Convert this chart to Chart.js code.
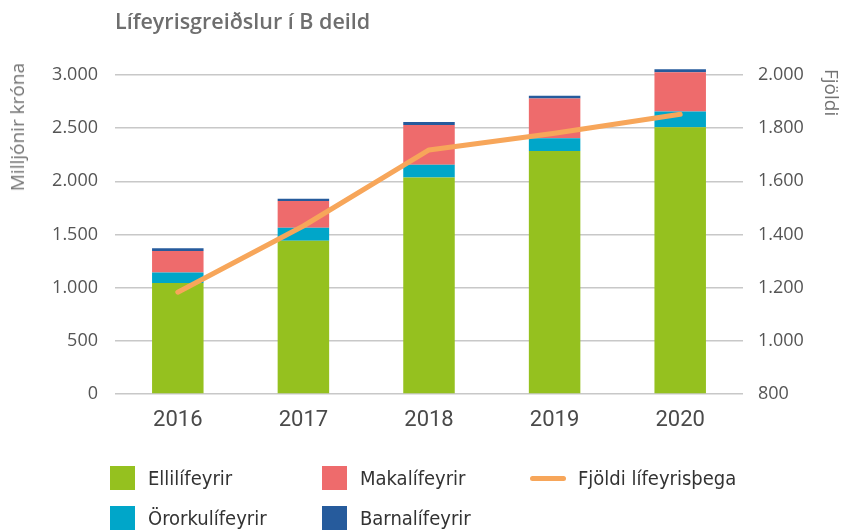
<!DOCTYPE html>
<html>
<head>
<meta charset="utf-8">
<script src="https://cdn.jsdelivr.net/npm/chart.js@4.4.1/dist/chart.umd.min.js"></script>
<style>
  html, body { margin: 0; padding: 0; background: #fff; }
  #wrap { position: relative; width: 849px; height: 530px; overflow: hidden; }
  #chart { position: absolute; left: 0; top: 0; }
  .title { position: absolute; left: 115px; top: 6px; font: 600 21.5px "Open Sans", sans-serif; color: #6e6e6e; }
  .axis-title { position: absolute; font: 400 19px/22px "Open Sans", sans-serif; color: #737373; white-space: nowrap; }
  #yTitle { left: 6px; top: 63px; transform-origin: left top; transform: rotate(-90deg) translateX(-100%); }
  #y1Title { left: 821px; top: 69px; transform-origin: left top; transform: rotate(90deg) translateY(-100%); }
  .legend { position: absolute; left: 0; top: 0; font: 20px "Liberation Sans Narrow", "DejaVu Sans Condensed", sans-serif; color: #333; }
  .legend .item { position: absolute; display: flex; align-items: center; white-space: nowrap; }
  .legend .box { width: 25px; height: 24px; margin-right: 13px; }
  .legend .line { width: 36px; height: 5px; border-radius: 3px; margin-right: 12px; }
</style>
</head>
<body>
<div id="wrap">
  <canvas id="chart" width="849" height="530"></canvas>
  <div class="title">Lífeyrisgreiðslur í B deild</div>
  <div class="axis-title" id="yTitle">Milljónir króna</div>
  <div class="axis-title" id="y1Title">Fjöldi</div>
  <div class="legend" id="legend"></div>
</div>
<script>
const years = ['2016', '2017', '2018', '2019', '2020'];
// milljónir króna
const ellilifeyrir = [1045, 1442, 2035, 2286, 2509];
const ororkulifeyrir = [97, 122, 122, 119, 147];
const makalifeyrir = [204, 251, 373, 373, 370];
const barnalifeyrir = [25, 22, 29, 28, 28];
// fjöldi lífeyrisþega
const fjoldi = [1183, 1432, 1718, 1781, 1852];

const colGreen = '#95c11f';
const colCyan = '#00a6c9';
const colRed = '#ee6b6c';
const colBlue = '#265b9c';
const colOrange = '#f7a65a';

function thousands(v) {
    return String(v).replace(/\B(?=(\d{3})+(?!\d))/g, '.');
}

function barSet(label, data, color) {
    return {
        type: 'bar',
        label: label,
        data: data,
        backgroundColor: color,
        borderWidth: 0,
        stack: 'a',
        yAxisID: 'y',
        barPercentage: 0.41,
        categoryPercentage: 1,
        clip: false,
        order: 2
    };
}

const datasets = [
    barSet('Ellilífeyrir', ellilifeyrir, colGreen),
    barSet('Örorkulífeyrir', ororkulifeyrir, colCyan),
    barSet('Makalífeyrir', makalifeyrir, colRed),
    barSet('Barnalífeyrir', barnalifeyrir, colBlue),
    {
        type: 'line',
        label: 'Fjöldi lífeyrisþega',
        data: fjoldi,
        borderColor: colOrange,
        backgroundColor: colOrange,
        borderWidth: 5,
        borderCapStyle: 'round',
        borderJoinStyle: 'round',
        pointRadius: 0,
        tension: 0,
        yAxisID: 'y1',
        order: 1
    }
];

const ctx = document.getElementById('chart').getContext('2d');
new Chart(ctx, {
    data: { labels: years, datasets: datasets },
    options: {
        responsive: false,
        animation: false,
        layout: { padding: { top: 75, left: 0, right: 0, bottom: 0 } },
        plugins: {
            legend: { display: false },
            tooltip: { enabled: false }
        },
        scales: {
            x: {
                stacked: true,
                grid: { display: false, drawTicks: false },
                border: { display: false },
                ticks: { color: '#4a4a4a', font: { family: 'Roboto', size: 22, weight: '400' }, padding: 13 },
                afterFit: s => { s.height = 530 - 394; }
            },
            y: {
                stacked: true,
                position: 'left',
                min: 0, max: 3000,
                grid: { color: '#c8c8c8', lineWidth: 1.5, drawTicks: false },
                border: { display: false },
                ticks: { stepSize: 500, color: '#555', font: { family: 'Open Sans', size: 18 }, padding: 17,
                    callback: v => thousands(v) },
                afterFit: s => { s.width = 115; }
            },
            y1: {
                position: 'right',
                min: 800, max: 2000,
                grid: { display: false, drawTicks: false },
                border: { display: false },
                ticks: { stepSize: 200, color: '#555', font: { family: 'Open Sans', size: 18 }, padding: 15,
                    callback: v => thousands(v) },
                afterFit: s => { s.width = 849 - 743; }
            }
        }
    }
});

// legend built from the datasets
const legendPos = [
    [110, 466], [110, 506], [322, 466], [322, 506], [530, 466]
];
const legend = document.getElementById('legend');
datasets.forEach((ds, i) => {
    const item = document.createElement('div');
    item.className = 'item';
    item.style.left = legendPos[i][0] + 'px';
    item.style.top = legendPos[i][1] + 'px';
    item.style.height = '24px';
    const sw = document.createElement('span');
    sw.className = ds.type === 'line' ? 'line' : 'box';
    sw.style.background = ds.backgroundColor;
    const tx = document.createElement('span');
    tx.textContent = ds.label;
    item.appendChild(sw);
    item.appendChild(tx);
    legend.appendChild(item);
});
</script>
</body>
</html>
